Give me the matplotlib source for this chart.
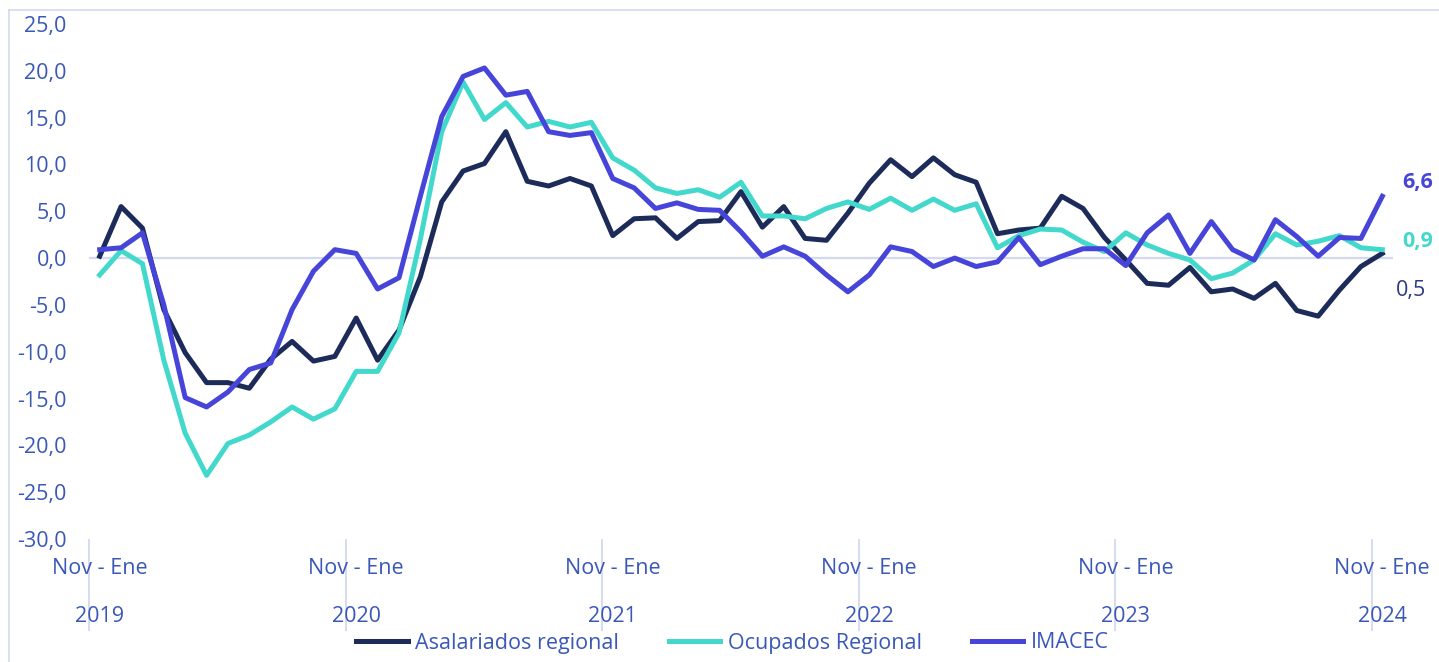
import matplotlib.pyplot as plt
from matplotlib.lines import Line2D
import numpy as np

# rolling quarters, Nov-Ene 2019 .. Nov-Ene 2024 (61 points)
asalariados = [0.2, 5.5, 3.2, -5.5, -10.1, -13.3, -13.3, -13.9, -10.8, -8.9,
               -11.0, -10.5, -6.4, -10.9, -7.7, -2.0, 6.0, 9.3, 10.1, 13.5,
               8.2, 7.7, 8.5, 7.7, 2.4, 4.2, 4.3, 2.1, 3.9, 4.0,
               7.1, 3.3, 5.5, 2.1, 1.9, 4.8, 8.0, 10.5, 8.7, 10.7,
               8.9, 8.1, 2.6, 3.0, 3.2, 6.6, 5.3, 2.2, -0.2, -2.7,
               -2.9, -1.0, -3.6, -3.3, -4.3, -2.7, -5.6, -6.2, -3.4, -0.9,
               0.5]
ocupados = [-1.8, 0.8, -0.6, -10.9, -18.7, -23.2, -19.8, -18.9, -17.5, -15.9,
            -17.2, -16.1, -12.1, -12.1, -8.0, 2.0, 13.5, 18.8, 14.8, 16.6,
            14.0, 14.6, 14.0, 14.5, 10.7, 9.4, 7.5, 6.9, 7.3, 6.5,
            8.1, 4.5, 4.5, 4.2, 5.3, 6.0, 5.2, 6.4, 5.1, 6.3,
            5.1, 5.8, 1.1, 2.4, 3.1, 3.0, 1.7, 0.7, 2.7, 1.4,
            0.5, -0.2, -2.2, -1.6, -0.2, 2.6, 1.4, 1.8, 2.4, 1.1,
            0.9]
imacec = [0.9, 1.1, 2.7, -5.0, -14.9, -15.9, -14.3, -11.9, -11.2, -5.5,
          -1.4, 0.9, 0.5, -3.3, -2.1, 6.6, 15.1, 19.4, 20.3, 17.4,
          17.8, 13.5, 13.1, 13.4, 8.5, 7.5, 5.3, 5.9, 5.2, 5.1,
          2.8, 0.2, 1.2, 0.2, -1.8, -3.6, -1.8, 1.2, 0.7, -0.9,
          0.0, -0.9, -0.4, 2.2, -0.7, 0.2, 1.0, 1.0, -0.8, 2.7,
          4.6, 0.5, 3.9, 0.9, -0.2, 4.1, 2.3, 0.2, 2.2, 2.1,
          6.6]
period_label = 'Nov - Ene'
years = ['2019', '2020', '2021', '2022', '2023', '2024']

NAVY = '#1c2b5a'
TEAL = '#42d9cc'
BLUE = '#4744d9'
TXT = '#3a58b8'
LIGHT = '#d3daf0'
FS = 15.5

plt.rcParams['font.family'] = ['Open Sans', 'DejaVu Sans']

fig = plt.figure(figsize=(14.39, 6.62), dpi=100)
ax = fig.add_axes([89/1439, 123/662, 1304/1439, 515/662])

x = np.arange(len(asalariados))
ax.plot(x, asalariados, color=NAVY, lw=3.6, label='Asalariados regional', zorder=3)
ax.plot(x, ocupados, color=TEAL, lw=3.6, label='Ocupados Regional', zorder=3)
ax.plot(x, imacec, color=BLUE, lw=3.6, label='IMACEC', zorder=3)
ax.axhline(0, color=LIGHT, lw=1.6, zorder=1)

ax.set_xlim(-0.5, len(x) - 0.5)
ax.set_ylim(-30, 25)
ax.set_yticks(np.arange(-30, 26, 5))
ax.set_yticklabels([f'{v:.1f}'.replace('.', ',') for v in np.arange(-30, 26, 5)])
ax.tick_params(axis='y', length=0, pad=16, labelsize=FS, labelcolor=TXT)

# ticks between categories, labels at each Nov-Ene
ax.set_xticks(np.arange(-0.5, len(x), 12))
ax.set_xticklabels([])
ax.tick_params(axis='x', which='major', length=66, width=1.3, color=LIGHT, direction='out')
for i, yr in enumerate(years):
    ax.text(i * 12, -0.058, period_label, transform=ax.get_xaxis_transform(),
            ha='center', va='center', fontsize=FS, color=TXT)
    ax.text(i * 12, -0.150, yr, transform=ax.get_xaxis_transform(),
            ha='center', va='center', fontsize=FS, color=TXT)

for s in ax.spines.values():
    s.set_visible(False)

# end labels
last = len(x) - 1
ax.annotate(f'{imacec[-1]:.1f}'.replace('.', ','), (last, imacec[-1]),
            xytext=(20, 14), textcoords='offset pixels', ha='left', va='center',
            fontsize=FS, fontweight='bold', color=BLUE)
ax.annotate(f'{ocupados[-1]:.1f}'.replace('.', ','), (last, ocupados[-1]),
            xytext=(20, 8), textcoords='offset pixels', ha='left', va='center',
            fontsize=FS, fontweight='bold', color=TEAL)
ax.annotate(f'{asalariados[-1]:.1f}'.replace('.', ','), (last, asalariados[-1]),
            xytext=(14, -37), textcoords='offset pixels', ha='left', va='center',
            fontsize=FS, color='#2b3b80')

# chart frame (top and left edges)
fig.add_artist(Line2D([9/1439, 1], [1 - 10/662, 1 - 10/662], color=LIGHT, lw=1.2,
                      transform=fig.transFigure))
fig.add_artist(Line2D([9/1439, 9/1439], [0, 1 - 10/662], color=LIGHT, lw=1.2,
                      transform=fig.transFigure))

leg = fig.legend(loc='center', bbox_to_anchor=(0.509, 1 - 643/662), ncol=3,
                 frameon=False, fontsize=FS, handlelength=2.4, handletextpad=0.35,
                 columnspacing=2.3, borderpad=0)
for t in leg.get_texts():
    t.set_color(TXT)

fig.savefig('out.png', dpi=100)
